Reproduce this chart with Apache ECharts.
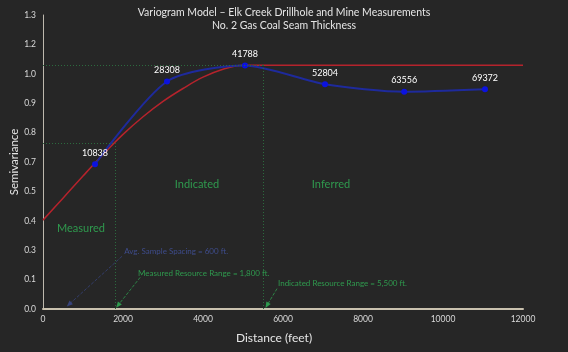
<!DOCTYPE html>
<html>
<head>
<meta charset="utf-8">
<script src="https://cdn.jsdelivr.net/npm/echarts@6/dist/echarts.min.js"></script>
<style>html,body{margin:0;padding:0;background:#262626;}#c{width:568px;height:352px;}</style>
</head>
<body>
<div id="c"></div>
<script>
// Experimental variogram points: [distance ft, semivariance], pair counts
const expDistance = [1300, 3100, 5050, 7050, 9030, 11050];
const expGamma = [0.640, 1.006, 1.077, 0.994, 0.961, 0.972];
const pairCounts = ['10838', '28308', '41788', '52804', '63556', '69372'];
// Model curve
const modelDistance = [0, 500, 1000, 1500, 2000, 2500, 3000, 3500, 4000, 4500, 5000, 6000, 12000];
const modelGamma = [0.393, 0.490, 0.588, 0.683, 0.772, 0.850, 0.918, 0.975, 1.025, 1.060, 1.078, 1.078, 1.078];
// Resource ranges
const avgSpacing = 600;
const measuredRange = 1800;
const indicatedRange = 5500;
const measuredLevel = 0.733;
const indicatedLevel = 1.08;
const xTicks = [0, 2000, 4000, 6000, 8000, 10000, 12000];
const yTickStep = 0.13;

const FONT = 'Lato, "Open Sans", sans-serif';
const green = '#2f9a4e';
const guide = '#2c6a3e';

const chart = echarts.init(document.getElementById('c'));
const expData = expDistance.map((d, i) => [d, expGamma[i], pairCounts[i]]);
const modelData = modelDistance.map((d, i) => [d, modelGamma[i]]);

function textPoint(x, y, name, color, size, pos) {
  return { coord: [x, y], name: name, value: name,
    label: { show: true, formatter: name, color: color, fontSize: size, fontFamily: FONT, position: pos || 'inside', distance: 0 } };
}

chart.setOption({
  backgroundColor: '#262626',
  animation: false,
  title: {
    text: 'Variogram Model \u2013 Elk Creek Drillhole and Mine Measurements\nNo. 2 Gas Coal Seam Thickness',
    left: 'center', top: 4, padding: [2, 18, 2, 0],
    textStyle: { color: '#e6e6e6', fontSize: 10.5, fontWeight: 'normal', fontFamily: FONT, lineHeight: 13, align: 'center' }
  },
  grid: { left: 43, right: 45, top: 15, bottom: 43, outerBoundsMode: 'none', containLabel: false },
  xAxis: {
    type: 'value', min: xTicks[0], max: xTicks[xTicks.length - 1], interval: 2000,
    name: 'Distance (feet)', nameLocation: 'middle', nameGap: 23,
    nameTextStyle: { color: '#e6e6e6', fontSize: 12, fontFamily: FONT, padding: [0, 18, 0, 0] },
    axisLine: { lineStyle: { color: '#c9c1ae', width: 2 } },
    axisTick: { show: false },
    axisLabel: { color: '#d9d9d9', fontSize: 8.5, fontFamily: FONT, margin: 6, formatter: v => String(v) },
    splitLine: { show: false }
  },
  yAxis: {
    type: 'value', min: 0, max: 1.3, interval: yTickStep,
    name: 'Semivariance', nameLocation: 'middle', nameGap: 23, nameRotate: 90, nameMoveOverlap: false,
    nameTextStyle: { color: '#e6e6e6', fontSize: 11.5, fontFamily: FONT },
    axisLine: { show: true, lineStyle: { color: '#bdb8ad', width: 1 } },
    axisTick: { show: false },
    axisLabel: { color: '#d9d9d9', fontSize: 8.5, fontFamily: FONT, margin: 7,
      formatter: v => (Math.round(v * 10) / 10).toFixed(1) },
    splitLine: { show: false }
  },
  series: [
    {
      type: 'line', name: 'guides', data: [], silent: true,
      markLine: {
        silent: true, symbol: ['none', 'none'],
        lineStyle: { color: guide, type: [1, 2], width: 1 },
        label: { show: false },
        data: [
          [{ coord: [0, measuredLevel] }, { coord: [measuredRange, measuredLevel] }],
          [{ coord: [measuredRange, 0] }, { coord: [measuredRange, measuredLevel] }],
          [{ coord: [0, indicatedLevel] }, { coord: [indicatedRange, indicatedLevel] }],
          [{ coord: [indicatedRange, 0] }, { coord: [indicatedRange, indicatedLevel] }]
        ]
      }
    },
    {
      type: 'line', name: 'arrows', data: [], silent: true,
      markLine: {
        silent: true, symbol: ['none', 'triangle'], symbolSize: [5, 6],
        label: { show: false },
        data: [
          [{ coord: [1975, 0.233], lineStyle: { color: '#36427a', width: 0.8 } }, { coord: [avgSpacing + 50, 0.02] }],
          [{ coord: [2430, 0.14], lineStyle: { color: green, width: 0.8 } }, { coord: [measuredRange + 75, 0.016] }],
          [{ coord: [5850, 0.09], lineStyle: { color: green, width: 0.8 } }, { coord: [indicatedRange + 100, 0.016] }]
        ]
      },
      markPoint: {
        silent: true, symbol: 'circle', symbolSize: 0,
        data: [
          textPoint(950, 0.357, 'Measured', green, 11),
          textPoint(3850, 0.552, 'Indicated', green, 11),
          textPoint(7200, 0.552, 'Inferred', green, 11),
          textPoint(2030, 0.253, 'Avg. Sample Spacing = 600 ft.', '#3e4c8c', 8, 'right'),
          textPoint(2375, 0.157, 'Measured Resource Range = 1,800 ft.', green, 8, 'right'),
          textPoint(5875, 0.114, 'Indicated Resource Range = 5,500 ft.', green, 8, 'right')
        ]
      }
    },
    {
      type: 'line', name: 'Model', data: modelData, showSymbol: false,
      smooth: 0.4,
      lineStyle: { color: '#b5232c', width: 1.5 }, z: 3
    },
    {
      type: 'line', name: 'Experimental', data: expData, smooth: 0.25,
      symbol: 'circle', symbolSize: 6,
      itemStyle: { color: '#0b12e0' },
      lineStyle: { color: '#1e2a9c', width: 2 },
      label: { show: true, position: 'top', distance: 4, color: '#ffffff', fontSize: 9, fontFamily: FONT,
        formatter: p => p.data[2] },
      z: 4
    }
  ]
});
</script>
</body>
</html>
